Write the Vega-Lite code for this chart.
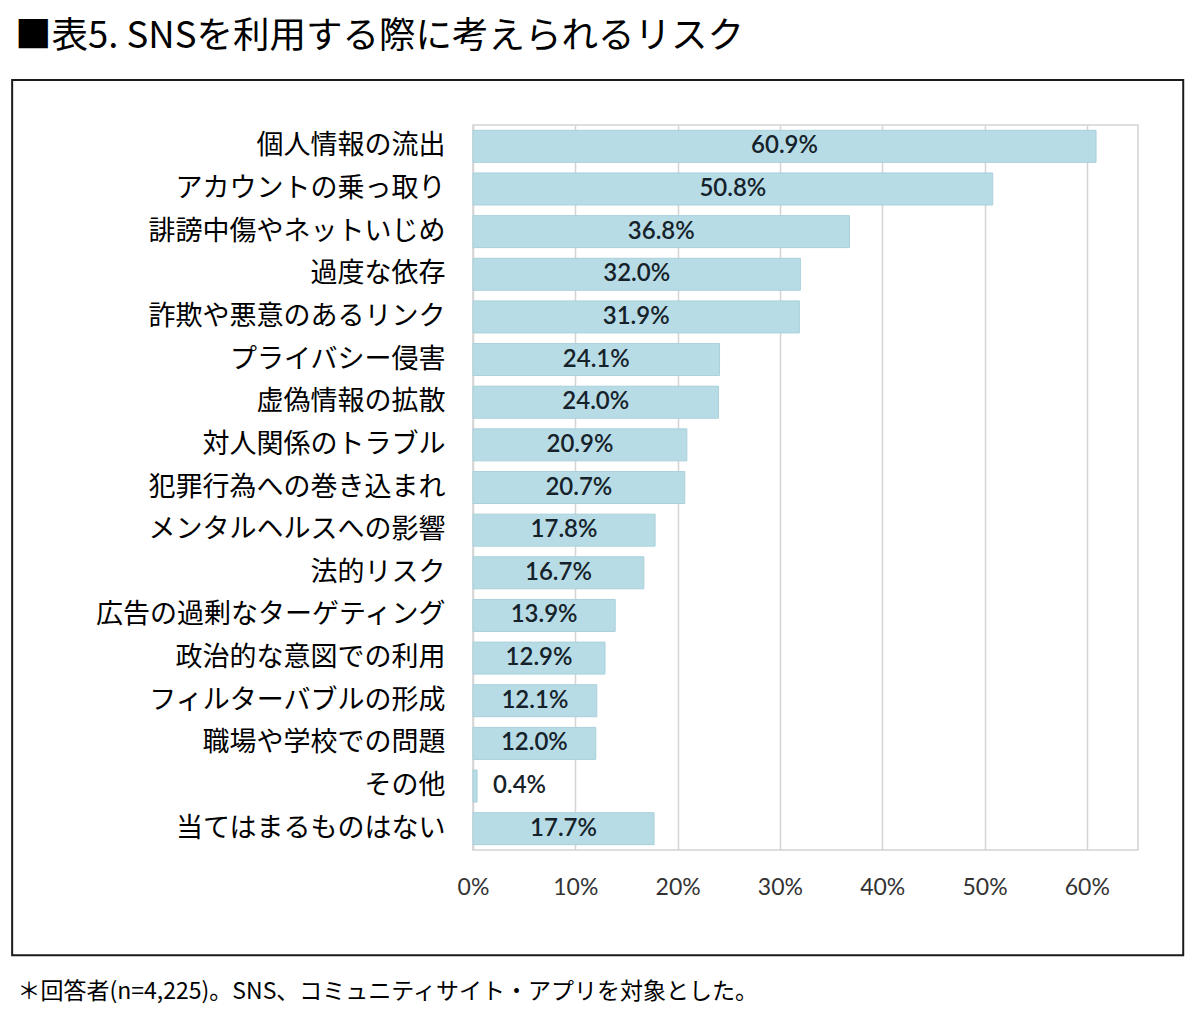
{
  "$schema": "https://vega.github.io/schema/vega-lite/v6.json",
  "autosize": {"type": "none"},
  "padding": {"left": 473, "top": 125, "right": 62, "bottom": 163},
  "width": 665,
  "height": 725,
  "background": "white",
  "title": {
    "text": "■表5. SNSを利用する際に考えられるリスク",
    "anchor": "start",
    "frame": "group",
    "dx": -458,
    "offset": 24,
    "font": "Noto Sans CJK JP",
    "fontSize": 36.5,
    "fontWeight": "normal",
    "color": "#000000"
  },
  "data": {
    "values": [
      {"item": "個人情報の流出", "value": 0.609},
      {"item": "アカウントの乗っ取り", "value": 0.508},
      {"item": "誹謗中傷やネットいじめ", "value": 0.368},
      {"item": "過度な依存", "value": 0.320},
      {"item": "詐欺や悪意のあるリンク", "value": 0.319},
      {"item": "プライバシー侵害", "value": 0.241},
      {"item": "虚偽情報の拡散", "value": 0.240},
      {"item": "対人関係のトラブル", "value": 0.209},
      {"item": "犯罪行為への巻き込まれ", "value": 0.207},
      {"item": "メンタルヘルスへの影響", "value": 0.178},
      {"item": "法的リスク", "value": 0.167},
      {"item": "広告の過剰なターゲティング", "value": 0.139},
      {"item": "政治的な意図での利用", "value": 0.129},
      {"item": "フィルターバブルの形成", "value": 0.121},
      {"item": "職場や学校での問題", "value": 0.120},
      {"item": "その他", "value": 0.004},
      {"item": "当てはまるものはない", "value": 0.177}
    ]
  },
  "config": {
    "view": {"stroke": "#d4d4d4", "strokeWidth": 1.5},
    "axis": {"grid": false}
  },
  "resolve": {"scale": {"x": "independent", "y": "independent"}},
  "layer": [
    {
      "resolve": {"scale": {"x": "independent"}},
      "layer": [
        {
          "mark": {"type": "bar", "color": "#b7dce6", "stroke": "#a9d0db", "strokeWidth": 1},
          "encoding": {
            "y": {
              "field": "item", "type": "nominal", "sort": null,
              "scale": {"paddingInner": 0.25, "paddingOuter": 0.125},
              "axis": {
                "title": null, "ticks": false, "domain": false,
                "labelFont": "Noto Sans CJK JP", "labelFontSize": 27,
                "labelColor": "#000000", "labelPadding": 28, "labelLimit": 500
              }
            },
            "x": {
              "field": "value", "type": "quantitative",
              "scale": {"domain": [0, 0.65], "nice": false, "zero": true},
              "axis": {
                "values": [0, 0.1, 0.2, 0.3, 0.4, 0.5, 0.6],
                "format": ".0%",
                "grid": true, "gridColor": "#d4d4d4", "gridWidth": 1.5,
                "ticks": false, "domain": false, "labelFlush": false,
                "labelFont": "Lato", "labelFontSize": 23, "labelColor": "#333333",
                "labelPadding": 26,
                "title": "＊回答者(n=4,225)。SNS、コミュニティサイト・アプリを対象とした。",
                "titleFont": "Noto Sans CJK JP", "titleFontSize": 23, "titleFontWeight": "normal",
                "titleColor": "#000000", "titleAnchor": "start", "titleAlign": "left",
                "titleBaseline": "alphabetic", "titleX": -456, "titleY": 148
              }
            }
          }
        },
        {
          "transform": [{"filter": "datum.value >= 0.05"}],
          "mark": {"type": "text", "font": "Lato", "fontSize": 24, "fontWeight": 600, "color": "#16222a", "align": "center", "baseline": "middle"},
          "encoding": {
            "y": {"field": "item", "type": "nominal", "sort": null},
            "x": {"field": "value", "type": "quantitative", "scale": {"domain": [0, 1.3], "nice": false, "zero": true}, "axis": null},
            "text": {"field": "value", "type": "quantitative", "format": ".1%"}
          }
        },
        {
          "transform": [{"filter": "datum.value < 0.05"}],
          "mark": {"type": "text", "font": "Lato", "fontSize": 24, "fontWeight": 600, "color": "#16222a", "align": "left", "baseline": "middle", "dx": 16},
          "encoding": {
            "y": {"field": "item", "type": "nominal", "sort": null},
            "x": {"field": "value", "type": "quantitative", "scale": {"domain": [0, 0.65], "nice": false, "zero": true}, "axis": null},
            "text": {"field": "value", "type": "quantitative", "format": ".1%"}
          }
        }
      ]
    },
    {
      "data": {"values": [{}]},
      "mark": {"type": "rect", "fill": null, "stroke": "#1a1a1a", "strokeWidth": 2, "clip": false},
      "encoding": {
        "x": {"datum": -0.693, "type": "quantitative", "scale": {"domain": [0, 1], "nice": false, "zero": false}, "axis": null},
        "x2": {"datum": 1.068},
        "y": {"datum": -0.145, "type": "quantitative", "scale": {"domain": [0, 1], "nice": false, "zero": false}, "axis": null},
        "y2": {"datum": 1.062}
      }
    }
  ]
}
